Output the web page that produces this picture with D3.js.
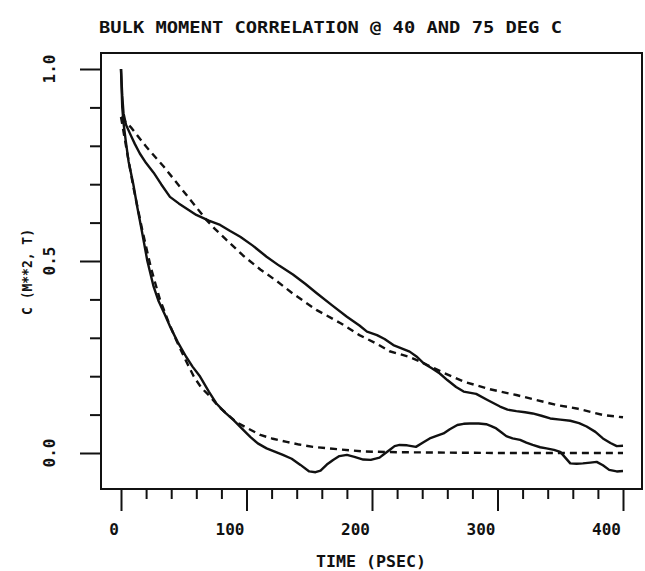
<!DOCTYPE html>
<html>
<head>
<meta charset="utf-8">
<script src="https://cdn.jsdelivr.net/npm/d3@7"></script>
<style>
  body { margin: 0; background: #fff; }
  text { font-family: "DejaVu Sans Mono", monospace; font-weight: bold; fill: #111; }
</style>
</head>
<body>
<div id="chart"></div>
<script>
// slow decay (40 C): simulation (solid) and fit (dashed)
const md40 = [
  [0, 1.0], [1, 0.93], [2, 0.885], [4, 0.855], [7, 0.833], [11, 0.805], [15, 0.78], [20, 0.755],
  [26, 0.73], [32, 0.70], [39, 0.667], [46, 0.65], [53, 0.635], [60, 0.62], [70, 0.605], [79, 0.594],
  [87, 0.578], [95, 0.563], [105, 0.54], [116, 0.511], [126, 0.488], [137, 0.465], [147, 0.44],
  [156, 0.416], [168, 0.385], [180, 0.355], [190, 0.332], [196, 0.316], [204, 0.307], [210, 0.297],
  [217, 0.281], [224, 0.272], [230, 0.264], [236, 0.25], [241, 0.234], [248, 0.22], [254, 0.207],
  [260, 0.19], [267, 0.172], [273, 0.16], [283, 0.154], [292, 0.138], [302, 0.121], [308, 0.113],
  [315, 0.109], [322, 0.106], [328, 0.103], [335, 0.097], [342, 0.09], [350, 0.087], [358, 0.084],
  [365, 0.078], [371, 0.069], [378, 0.055], [384, 0.038], [390, 0.026], [395, 0.018], [400, 0.019]
];
const fit40 = [
  [0, 0.875], [8.5, 0.846], [20, 0.798], [34, 0.746], [47, 0.693], [60, 0.64], [68, 0.607],
  [75, 0.583], [84, 0.555], [97, 0.515], [111, 0.478], [124, 0.448], [137, 0.415], [156, 0.372],
  [175, 0.338], [190, 0.307], [204, 0.284], [214, 0.265], [230, 0.25], [241, 0.234], [257, 0.209],
  [273, 0.186], [294, 0.166], [315, 0.151], [331, 0.138], [347, 0.125], [363, 0.116], [384, 0.099],
  [400, 0.093]
];
// fast decay (75 C)
const md75 = [
  [0, 1.0], [1, 0.9], [2, 0.86], [3.7, 0.815], [6, 0.76], [9.8, 0.70], [13, 0.64], [16.5, 0.58],
  [21, 0.5], [26, 0.433], [30, 0.395], [35, 0.36], [39, 0.33], [45, 0.29], [52, 0.25], [57, 0.225],
  [63, 0.199], [70, 0.16], [76, 0.129], [83, 0.105], [89.5, 0.086], [96, 0.065], [103, 0.042],
  [109, 0.025], [116, 0.012], [122, 0.004], [129, -0.005], [136, -0.015], [143, -0.031],
  [150, -0.048], [155, -0.05], [159, -0.046], [164, -0.03], [169, -0.018], [174, -0.008],
  [180, -0.005], [186, -0.01], [193, -0.017], [199, -0.018], [206, -0.012], [210, -0.002],
  [214, 0.008], [218, 0.018], [222, 0.021], [228, 0.02], [235, 0.016], [241, 0.028], [246, 0.038],
  [252, 0.045], [257, 0.051], [262, 0.062], [268, 0.073], [273, 0.076], [278, 0.077], [285, 0.077],
  [291, 0.075], [295, 0.07], [299, 0.064], [303, 0.054], [307, 0.044], [312, 0.038], [318, 0.034],
  [323, 0.027], [328, 0.021], [334, 0.015], [339, 0.012], [345, 0.008], [350, 0.003], [354, -0.012],
  [358, -0.027], [363, -0.028], [368, -0.027], [374, -0.025], [379, -0.023], [384, -0.032],
  [389, -0.044], [395, -0.048], [400, -0.047]
];
const fit75 = [
  [0, 0.875], [5, 0.78], [10, 0.69], [17, 0.58], [24, 0.48], [31, 0.40], [38, 0.34], [44, 0.294],
  [51, 0.245], [58, 0.199], [64, 0.17], [71, 0.147], [78, 0.12], [84, 0.103], [92, 0.08],
  [100, 0.066], [111, 0.047], [121, 0.037], [132, 0.029], [142, 0.022], [153, 0.016], [172, 0.01],
  [193, 0.004], [220, 0.002], [260, 0.001], [300, 0.0], [350, 0.0], [400, 0.0]
];

const xTickLabels = [0, 100, 200, 300, 400];
const yTickLabels = ["0.0", "0.5", "1.0"];

const width = 645, height = 571;
const frame = { left: 101, right: 642, top: 53, bottom: 489 };

const svg = d3.select("#chart").append("svg")
  .attr("width", width)
  .attr("height", height);

const x = d3.scaleLinear().domain([0, 400]).range([121, 623]);
const y = d3.scaleLinear().domain([0, 1]).range([453, 69]);

// frame
svg.append("rect")
  .attr("x", frame.left).attr("y", frame.top)
  .attr("width", frame.right - frame.left).attr("height", frame.bottom - frame.top)
  .attr("fill", "none").attr("stroke", "#111").attr("stroke-width", 2);

// x ticks (minor every 20, major every 100)
const xAxis = d3.axisBottom(x).tickValues(d3.range(0, 401, 20))
  .tickSize(0).tickFormat("");
const gx = svg.append("g").attr("transform", `translate(0,${frame.bottom})`).call(xAxis);
gx.select(".domain").remove();
gx.selectAll(".tick line")
  .attr("y2", d => d % 100 === 0 ? 22 : 10)
  .attr("stroke", "#111").attr("stroke-width", 2);

svg.selectAll(".xlab").data(xTickLabels).enter().append("text")
  .attr("class", "xlab")
  .attr("x", d => x(d) - 2).attr("y", 535)
  .attr("text-anchor", "end")
  .style("font-size", "16px")
  .text(d => d);

// y ticks (minor every 0.1, major every 0.5)
const yAxis = d3.axisLeft(y).tickValues(d3.range(0, 11).map(i => i / 10))
  .tickSize(0).tickFormat("");
const gy = svg.append("g").attr("transform", `translate(${frame.left},0)`).call(yAxis);
gy.select(".domain").remove();
gy.selectAll(".tick line")
  .attr("x2", (d, i) => i % 5 === 0 ? -21 : -11)
  .attr("stroke", "#111").attr("stroke-width", 2);

svg.selectAll(".ylab").data(yTickLabels).enter().append("text")
  .attr("class", "ylab")
  .attr("transform", d => `translate(49,${y(+d)}) rotate(-90)`)
  .attr("text-anchor", "middle")
  .attr("dy", "0.35em")
  .style("font-size", "16px")
  .text(d => d);

// titles
svg.append("text")
  .attr("x", 99).attr("y", 33)
  .attr("textLength", 463).attr("lengthAdjust", "spacingAndGlyphs")
  .style("font-size", "16px")
  .text("BULK MOMENT CORRELATION @ 40 AND 75 DEG C");

svg.append("text")
  .attr("x", 316).attr("y", 567)
  .attr("textLength", 110).attr("lengthAdjust", "spacingAndGlyphs")
  .style("font-size", "15px")
  .text("TIME (PSEC)");

svg.append("text")
  .attr("transform", "translate(27,272) rotate(-90)")
  .attr("text-anchor", "middle")
  .attr("dy", "0.35em")
  .attr("textLength", 86).attr("lengthAdjust", "spacingAndGlyphs")
  .style("font-size", "14px")
  .text("C (M**2, T)");

// curves
const line = d3.line().x(d => x(d[0])).y(d => y(d[1])).curve(d3.curveLinear);

const series = [
  { data: md40, dash: null },
  { data: fit40, dash: "7,5" },
  { data: md75, dash: null },
  { data: fit75, dash: "7,5" }
];

svg.selectAll(".curve").data(series).enter().append("path")
  .attr("class", "curve")
  .attr("d", d => line(d.data))
  .attr("fill", "none")
  .attr("stroke", "#111")
  .attr("stroke-width", 2.4)
  .attr("stroke-linejoin", "round")
  .attr("stroke-dasharray", d => d.dash);
</script>
</body>
</html>
